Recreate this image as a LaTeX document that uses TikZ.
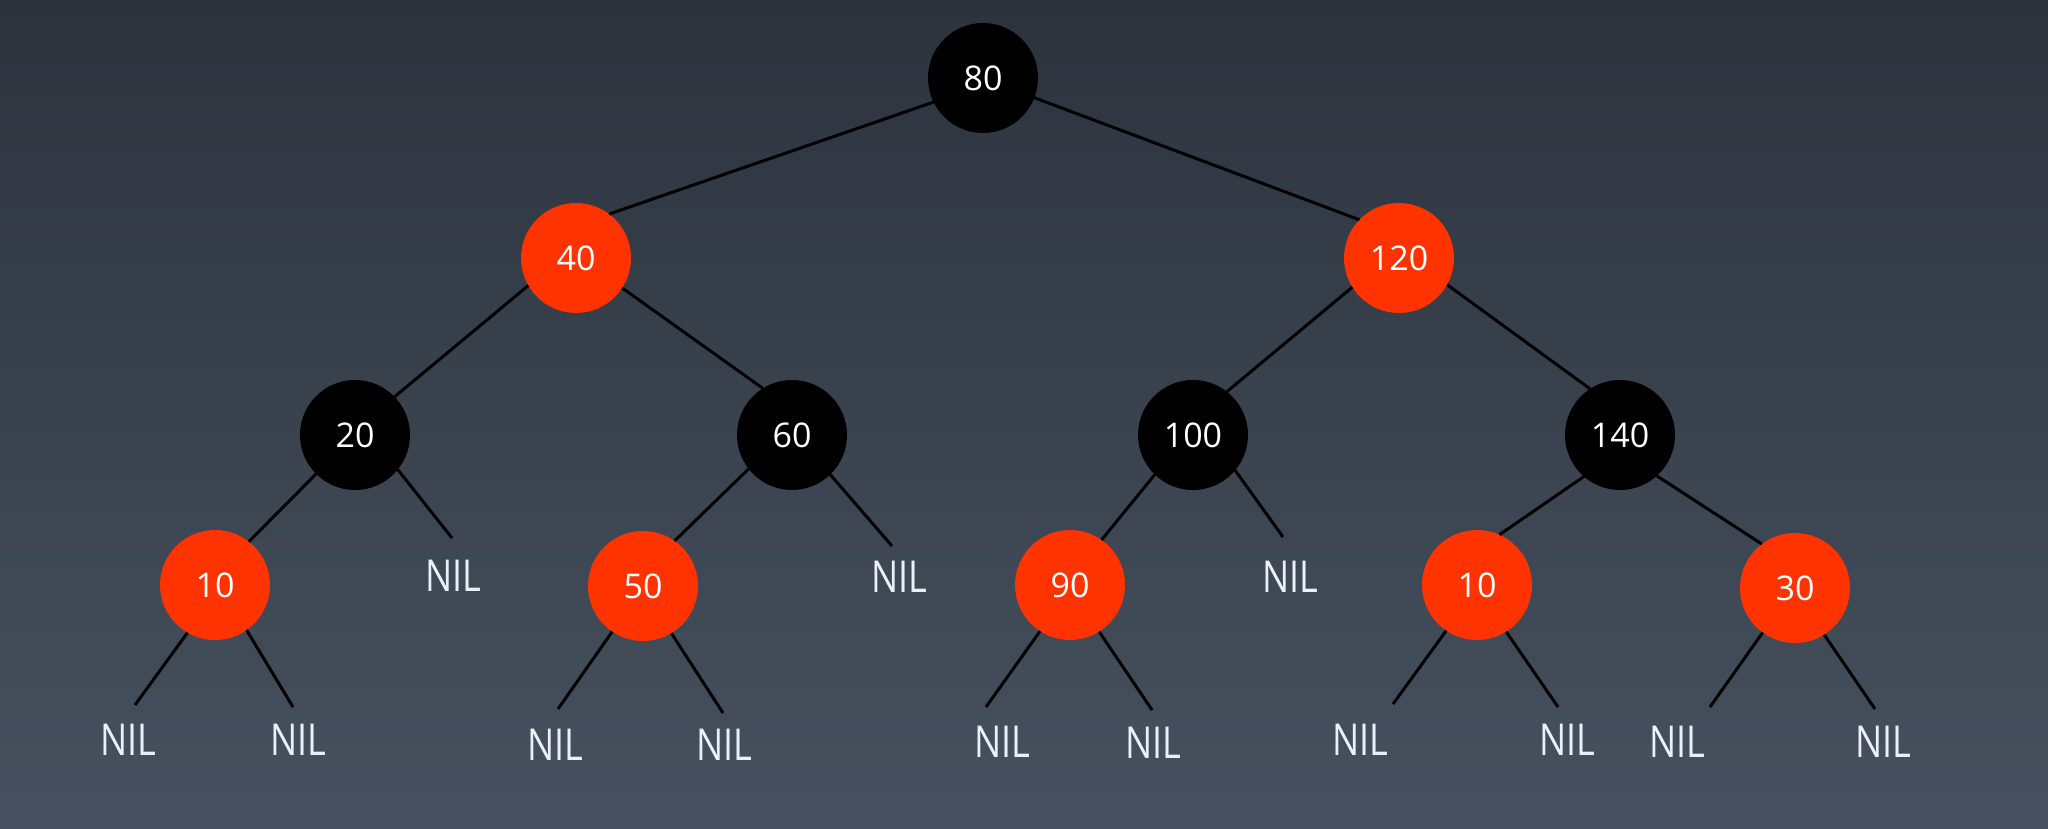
\documentclass[tikz,border=0pt]{standalone}
\usepackage{fontspec}
\newfontfamily\numfont{Open Sans}
\newfontfamily\nilfont[FakeStretch=0.82]{Open Sans}
\definecolor{rbred}{HTML}{FF3300}
\definecolor{nilwhite}{HTML}{E8F0F8}
\definecolor{bgtop}{HTML}{2C333D}
\definecolor{bgbot}{HTML}{47515F}
\begin{document}
\begin{tikzpicture}[x=1pt,y=-1pt,
  rbnode/.style={circle, minimum size=110pt, inner sep=0pt, outer sep=0pt, text=white, font=\numfont\fontsize{34}{40}\selectfont},
  blacknode/.style={rbnode, fill=black},
  rednode/.style={rbnode, fill=rbred},
  nilnode/.style={inner sep=0pt, outer sep=0pt, text=nilwhite, font=\nilfont\fontsize{44}{50}\selectfont},
  edge/.style={line width=3pt, black}]
\shade[top color=bgtop, bottom color=bgbot] (0,0) rectangle (2048,829);
\useasboundingbox (0,0) rectangle (2048,829);

% internal nodes
\node[blacknode] (n80)  at (983,78)   {80};
\node[rednode]   (n40)  at (576,258)  {40};
\node[rednode]   (n120) at (1399,258) {120};
\node[blacknode] (n20)  at (355,435)  {20};
\node[blacknode] (n60)  at (792,435)  {60};
\node[blacknode] (n100) at (1193,435) {100};
\node[blacknode] (n140) at (1620,435) {140};
\node[rednode]   (n10a) at (215,585)  {10};
\node[rednode]   (n50)  at (643,586)  {50};
\node[rednode]   (n90)  at (1070,585) {90};
\node[rednode]   (n10b) at (1477,585) {10};
\node[rednode]   (n30)  at (1795,588) {30};

% NIL leaves, middle row
\node[nilnode] (l20)  at (453,576)  {NIL};
\node[nilnode] (l60)  at (899,577)  {NIL};
\node[nilnode] (l100) at (1290,577) {NIL};

% NIL leaves, bottom row
\node[nilnode] (l10aL) at (128,740)  {NIL};
\node[nilnode] (l10aR) at (298,740)  {NIL};
\node[nilnode] (l50L)  at (555,745)  {NIL};
\node[nilnode] (l50R)  at (724,745)  {NIL};
\node[nilnode] (l90L)  at (1002,742) {NIL};
\node[nilnode] (l90R)  at (1153,743) {NIL};
\node[nilnode] (l10bL) at (1360,740) {NIL};
\node[nilnode] (l10bR) at (1567,740) {NIL};
\node[nilnode] (l30L)  at (1677,742) {NIL};
\node[nilnode] (l30R)  at (1883,742) {NIL};

% edges between inner nodes
\draw[edge] (n80.206) -- (n40.53);
\draw[edge] (n80.339) -- (n120.136);
\draw[edge] (n40.210) -- (n20.44);
\draw[edge] (n40.327) -- (n60.122);
\draw[edge] (n120.212) -- (n100.52);
\draw[edge] (n120.331) -- (n140.123);
\draw[edge] (n20.225) -- (n10a.52);
\draw[edge] (n60.218) -- (n50.55);
\draw[edge] (n100.226) -- (n90.55);
\draw[edge] (n140.229) -- (n10b.66);
\draw[edge] (n140.312) -- (n30.127);

% edges to NIL leaves
\draw[edge] (n20.321)  -- ([shift={(-1,-38)}]l20.center);
\draw[edge] (n60.314)  -- ([shift={(-7,-31)}]l60.center);
\draw[edge] (n100.320) -- ([shift={(-7,-40)}]l100.center);
\draw[edge] (n10a.240) -- ([shift={(7,-35)}]l10aL.center);
\draw[edge] (n10a.305) -- ([shift={(-5,-33)}]l10aR.center);
\draw[edge] (n50.236)  -- ([shift={(3,-36)}]l50L.center);
\draw[edge] (n50.301)  -- ([shift={(-1,-32)}]l50R.center);
\draw[edge] (n90.237)  -- ([shift={(-16,-35)}]l90L.center);
\draw[edge] (n90.302)  -- ([shift={(-1,-33)}]l90R.center);
\draw[edge] (n10b.236) -- ([shift={(33,-36)}]l10bL.center);
\draw[edge] (n10b.302) -- ([shift={(-9,-33)}]l10bR.center);
\draw[edge] (n30.234)  -- ([shift={(33,-35)}]l30L.center);
\draw[edge] (n30.302)  -- ([shift={(-8,-33)}]l30R.center);
\end{tikzpicture}
\end{document}
